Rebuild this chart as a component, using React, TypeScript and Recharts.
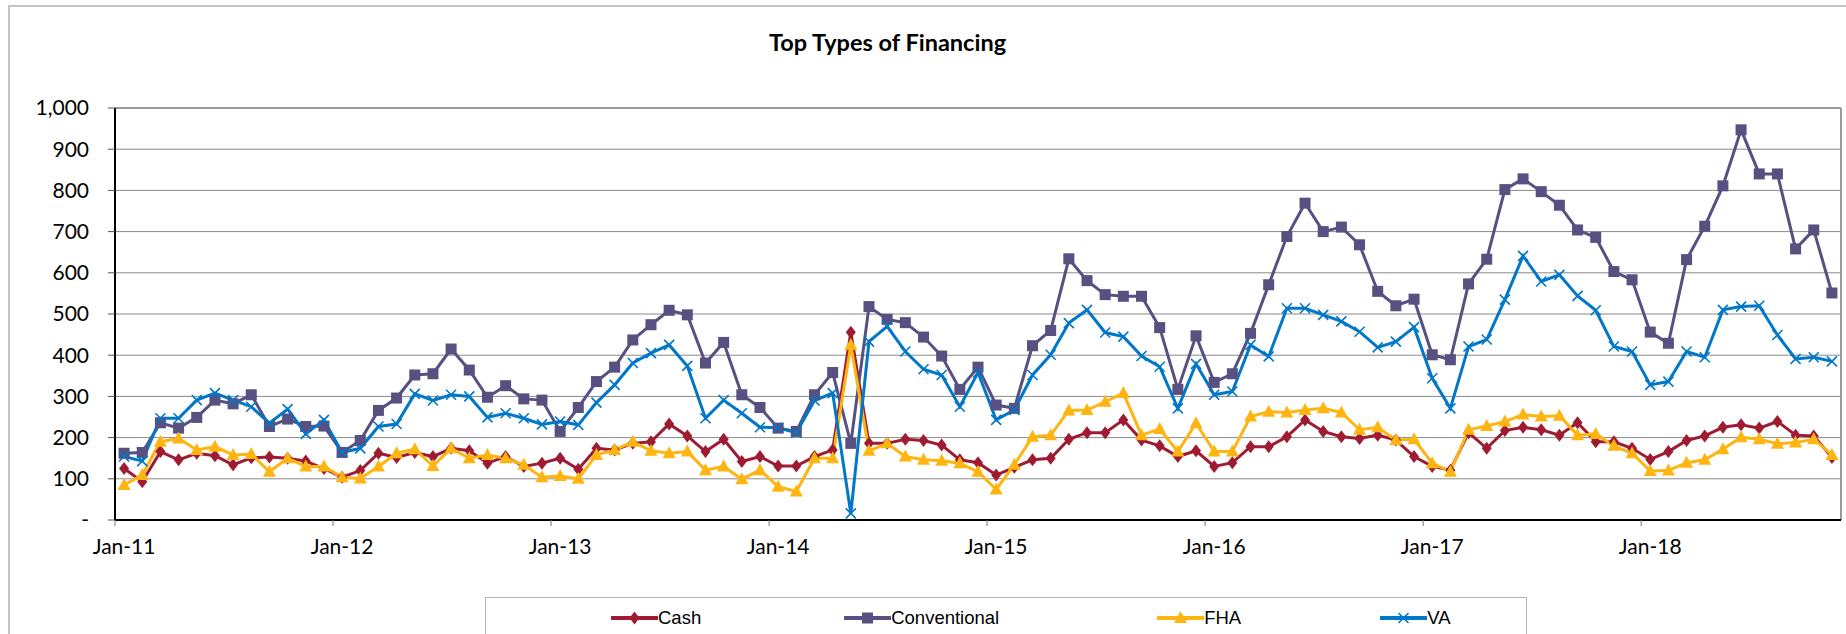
import React from 'react';
import { LineChart, Line, XAxis, YAxis, CartesianGrid, ReferenceLine } from 'recharts';

const years = ['11', '12', '13', '14', '15', '16', '17', '18'];
const monthNames = ['Jan', 'Feb', 'Mar', 'Apr', 'May', 'Jun', 'Jul', 'Aug', 'Sep', 'Oct', 'Nov', 'Dec'];

const cash = [
  125, 93, 166, 146, 162, 156, 134, 151, 153, 150, 143, 125,
  104, 120, 162, 152, 164, 154, 174, 168, 138, 154, 130, 138,
  150, 123, 174, 170, 186, 190, 233, 204, 166, 196, 142, 154,
  131, 131, 154, 170, 456, 186, 186, 196, 193, 182, 146, 139,
  109, 128, 146, 150, 196, 212, 212, 243, 194, 180, 154, 168,
  130, 139, 178, 178, 202, 243, 215, 202, 198, 206, 194, 154,
  130, 121, 212, 174, 217, 225, 219, 206, 236, 190, 190, 174,
  147, 166, 193, 204, 225, 231, 223, 239, 206, 204, 152,
];

const conventional = [
  162, 164, 236, 223, 249, 291, 282, 304, 227, 245, 227, 228,
  164, 193, 266, 296, 352, 355, 415, 364, 298, 326, 294, 291,
  215, 273, 336, 371, 437, 474, 509, 498, 381, 431, 304, 273,
  223, 215, 304, 358, 186, 518, 487, 479, 444, 398, 317, 371,
  279, 271, 423, 460, 634, 581, 547, 543, 543, 467, 317, 447,
  334, 355, 453, 571, 688, 769, 700, 711, 668, 555, 520, 536,
  401, 389, 573, 633, 802, 828, 797, 764, 704, 686, 603, 583,
  456, 429, 632, 713, 811, 947, 840, 840, 658, 704, 551,
];

const fha = [
  85, 109, 190, 198, 170, 178, 158, 160, 117, 150, 130, 130,
  104, 101, 130, 162, 172, 131, 174, 150, 158, 150, 134, 104,
  107, 100, 158, 170, 190, 168, 162, 166, 121, 130, 99, 121,
  81, 69, 150, 150, 425, 168, 186, 154, 146, 144, 138, 117,
  74, 134, 202, 206, 266, 267, 287, 308, 206, 221, 166, 235,
  166, 166, 251, 263, 261, 267, 271, 261, 219, 225, 194, 196,
  138, 117, 219, 228, 239, 256, 251, 253, 206, 209, 180, 162,
  119, 120, 139, 146, 172, 201, 196, 185, 188, 196, 158,
];

const va = [
  154, 143, 247, 247, 291, 308, 291, 275, 235, 269, 209, 243,
  164, 174, 227, 233, 306, 290, 304, 300, 249, 259, 247, 232,
  239, 231, 285, 328, 381, 405, 425, 374, 247, 291, 259, 225,
  224, 212, 290, 308, 16, 433, 470, 409, 366, 352, 275, 358,
  243, 267, 352, 401, 478, 510, 455, 445, 398, 372, 271, 379,
  304, 312, 425, 397, 514, 514, 498, 482, 457, 419, 433, 468,
  344, 271, 421, 438, 535, 641, 579, 595, 544, 509, 421, 409,
  328, 336, 409, 395, 510, 518, 520, 449, 391, 395, 385,
];

const xTickLabels = ['Jan-11', 'Jan-12', 'Jan-13', 'Jan-14', 'Jan-15', 'Jan-16', 'Jan-17', 'Jan-18'];
const yTicks = [0, 100, 200, 300, 400, 500, 600, 700, 800, 900, 1000];

const months: string[] = [];
years.forEach((y) => monthNames.forEach((m) => months.push(`${m}-${y}`)));
const categories = months.slice(0, cash.length);

const data = categories.map((month, i) => ({
  month,
  x: i + 0.5,
  cash: cash[i],
  conventional: conventional[i],
  fha: fha[i],
  va: va[i],
}));

const N = categories.length;
const boundaryTicks = xTickLabels.map((_, k) => k * 12);
const labelTicks = xTickLabels.map((_, k) => k * 12 + 0.5);

const C_CASH = '#9E1B32';
const C_CONV = '#575080';
const C_FHA = '#FFB511';
const C_VA = '#0077C8';

const AXIS_FONT = 'Lato, "Open Sans", sans-serif';

const Diamond = (p: any) => {
  const { cx, cy, index } = p;
  if (cx == null || cy == null) return <g key={index} />;
  return <path key={index} d={`M${cx},${cy - 6.5}L${cx + 5},${cy}L${cx},${cy + 6.5}L${cx - 5},${cy}Z`} fill={C_CASH} />;
};
const Square = (p: any) => {
  const { cx, cy, index } = p;
  if (cx == null || cy == null) return <g key={index} />;
  return <rect key={index} x={cx - 5.5} y={cy - 5.5} width={11} height={11} fill={C_CONV} />;
};
const Triangle = (p: any) => {
  const { cx, cy, index } = p;
  if (cx == null || cy == null) return <g key={index} />;
  return <path key={index} d={`M${cx},${cy - 7}L${cx + 6.5},${cy + 5}L${cx - 6.5},${cy + 5}Z`} fill={C_FHA} />;
};
const Cross = (p: any) => {
  const { cx, cy, index } = p;
  if (cx == null || cy == null) return <g key={index} />;
  return (
    <path key={index} d={`M${cx - 5},${cy - 5}L${cx + 5},${cy + 5}M${cx - 5},${cy + 5}L${cx + 5},${cy - 5}`} stroke={C_VA} strokeWidth={1.6} fill="none" />
  );
};

const legendItems = [
  { name: 'Cash', color: C_CASH, shape: Diamond, after: 143 },
  { name: 'Conventional', color: C_CONV, shape: Square, after: 158 },
  { name: 'FHA', color: C_FHA, shape: Triangle, after: 139 },
  { name: 'VA', color: C_VA, shape: Cross, after: 0 },
];

const yFmt = (v: number) => (v === 0 ? '-' : v.toLocaleString('en-US'));
const xFmt = (v: number) => xTickLabels[Math.round((v - 0.5) / 12)] ?? '';

export default function App() {
  return (
    <div style={{ position: 'absolute', left: 0, top: 0, width: 1846, height: 634, overflow: 'hidden', background: '#fff' }}>
      <div
        style={{
          position: 'absolute',
          left: 8,
          top: 5,
          width: 1900,
          height: 700,
          borderLeft: '2px solid #c4c4c4',
          borderTop: '2px solid #c4c4c4',
          boxSizing: 'border-box',
        }}
      />
      <div
        style={{
          position: 'absolute',
          left: 0,
          width: 1775,
          top: 29,
          textAlign: 'center',
          fontFamily: AXIS_FONT,
          fontWeight: 700,
          fontSize: 23.5,
          color: '#000',
          lineHeight: '26px',
        }}
      >
        Top Types of Financing
      </div>
      <div style={{ position: 'absolute', left: 0, top: 0 }}>
        <LineChart width={1846} height={634} data={data} margin={{ top: 108, right: 5, left: 55, bottom: 76 }}>
          <CartesianGrid horizontal vertical={false} stroke="#8a8a8a" strokeWidth={1} />
          <XAxis
            xAxisId={0}
            type="number"
            dataKey="x"
            domain={[0, N]}
            ticks={boundaryTicks}
            tickFormatter={() => ''}
            tickSize={6}
            height={8}
            axisLine={{ stroke: '#000', strokeWidth: 2 }}
            tickLine={{ stroke: '#777', strokeWidth: 1 }}
            interval={0}
          />
          <XAxis
            xAxisId="lbl"
            type="number"
            dataKey="x"
            domain={[0, N]}
            ticks={labelTicks}
            tickFormatter={xFmt}
            tickSize={0}
            tickMargin={11}
            height={30}
            axisLine={false}
            tickLine={false}
            interval={0}
            tick={{ fill: '#000', fontSize: 21, fontFamily: AXIS_FONT }}
          />
          <YAxis
            type="number"
            domain={[0, 1000]}
            ticks={yTicks}
            interval={0}
            width={60}
            tickFormatter={yFmt}
            tickSize={7}
            tickMargin={19}
            axisLine={{ stroke: '#000', strokeWidth: 2 }}
            tickLine={{ stroke: '#555', strokeWidth: 1 }}
            tick={{ fill: '#000', fontSize: 21, fontFamily: AXIS_FONT }}
          />
          <ReferenceLine y={1000} stroke="#9a9a9a" strokeWidth={2} />
          <ReferenceLine x={N} stroke="#9a9a9a" strokeWidth={2} />
          <Line dataKey="cash" stroke={C_CASH} strokeWidth={3} dot={Diamond} activeDot={false} isAnimationActive={false} />
          <Line dataKey="conventional" stroke={C_CONV} strokeWidth={3} dot={Square} activeDot={false} isAnimationActive={false} />
          <Line dataKey="fha" stroke={C_FHA} strokeWidth={3} dot={Triangle} activeDot={false} isAnimationActive={false} />
          <Line dataKey="va" stroke={C_VA} strokeWidth={3} dot={Cross} activeDot={false} isAnimationActive={false} />
        </LineChart>
      </div>
      <div
        style={{
          position: 'absolute',
          left: 485,
          top: 597,
          width: 1042,
          height: 80,
          border: '1px solid #b4b4b4',
          boxSizing: 'border-box',
          display: 'flex',
          alignItems: 'flex-start',
          paddingLeft: 125,
          paddingTop: 7,
          fontFamily: '"Liberation Sans", Arial, sans-serif',
          fontSize: 18.5,
          color: '#000',
        }}
      >
        {legendItems.map((it) => (
          <div key={it.name} style={{ display: 'flex', alignItems: 'center', lineHeight: '26px', marginRight: it.after }}>
            <svg width={47} height={20} style={{ display: 'block' }}>
              <line x1={1} y1={10} x2={46} y2={10} stroke={it.color} strokeWidth={4} strokeLinecap="round" />
              {it.shape({ cx: 23.5, cy: 10, index: 0 })}
            </svg>
            <span>{it.name}</span>
          </div>
        ))}
      </div>
    </div>
  );
}
